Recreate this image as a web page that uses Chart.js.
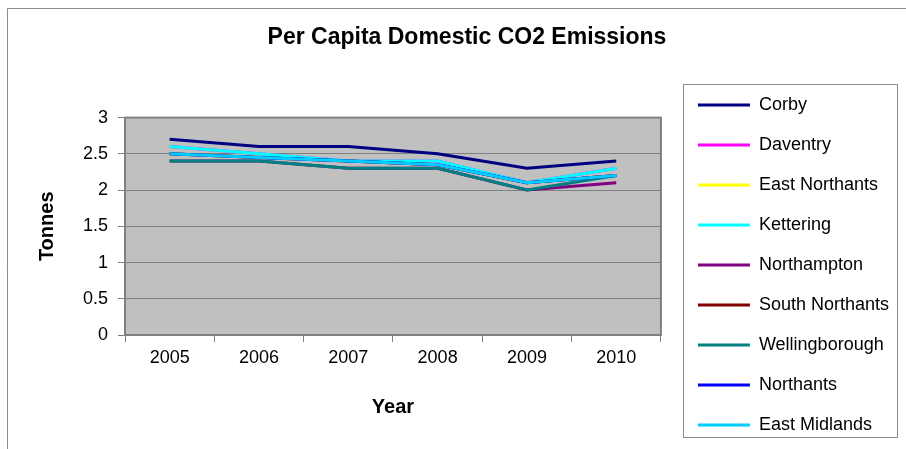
<!DOCTYPE html>
<html>
<head>
<meta charset="utf-8">
<script src="https://cdn.jsdelivr.net/npm/chart.js@4/dist/chart.umd.min.js"></script>
<style>
  html, body { margin: 0; padding: 0; background: #fff; }
  /* the original picture is cropped at the bottom, so the canvas runs past the window */
  #wrap { width: 906px; height: 449px; overflow: hidden; }
</style>
</head>
<body>
<div id="wrap"><canvas id="co2Chart" width="906" height="530"></canvas></div>
<script>

// Data

const years = ["2005", "2006", "2007", "2008", "2009", "2010"];

const corby          = [2.7, 2.6, 2.6, 2.5, 2.3, 2.4];
const daventry       = [2.6, 2.5, 2.4, 2.4, 2.1, 2.3];
const eastNorthants  = [2.5, 2.45, 2.4, 2.35, 2.1, 2.2];
const kettering      = [2.6, 2.5, 2.4, 2.4, 2.1, 2.3];
const northampton    = [2.4, 2.4, 2.3, 2.3, 2.0, 2.1];
const southNorthants = [2.5, 2.45, 2.4, 2.35, 2.1, 2.2];
const wellingborough = [2.4, 2.4, 2.3, 2.3, 2.0, 2.2];
const northants      = [2.5, 2.45, 2.4, 2.35, 2.1, 2.2];
const eastMidlands   = [2.5, 2.45, 2.4, 2.35, 2.1, 2.2];

const seriesNames = ["Corby", "Daventry", "East Northants", "Kettering", "Northampton",
  "South Northants", "Wellingborough", "Northants", "East Midlands"];
const seriesData = [corby, daventry, eastNorthants, kettering, northampton,
  southNorthants, wellingborough, northants, eastMidlands];
const seriesColors = ["#000080", "#ff00ff", "#ffff00", "#00ffff", "#800080",
  "#800000", "#008080", "#0000ff", "#00ccff"];

const yMin = 0;
const yMax = 3;
const yStep = 0.5;

const FONT = "'Liberation Sans', Arial, sans-serif";

// Background, plot area and legend frame

const frames = {

  id: "frames",

  beforeDraw(chart) {
    const { ctx, chartArea: a, width, height } = chart;
    ctx.save();
    ctx.fillStyle = "#ffffff";
    ctx.fillRect(0, 0, width, height);
    ctx.strokeStyle = "#8c8c8c";
    ctx.lineWidth = 1;
    ctx.beginPath();
    ctx.moveTo(7.5, height);
    ctx.lineTo(7.5, 8.5);
    ctx.lineTo(width, 8.5);
    ctx.stroke();
    ctx.fillStyle = "#c0c0c0";
    ctx.fillRect(a.left, a.top, a.right - a.left, a.bottom - a.top);
    ctx.restore();
  },

  beforeDatasetsDraw(chart) {
    const { ctx, chartArea: a } = chart;
    ctx.save();
    ctx.strokeStyle = "#808080";
    ctx.lineWidth = 2;
    ctx.strokeRect(a.left, a.top, a.right - a.left, a.bottom - a.top);
    ctx.restore();
  },

  afterDraw(chart) {
    const legend = chart.legend;
    const boxes = legend.legendHitBoxes;
    if (!boxes || !boxes.length) return;
    const first = boxes[0];
    const last = boxes[boxes.length - 1];
    const top = first.top + first.height / 2 - 21;
    const bottom = last.top + last.height / 2 + 12;
    const { ctx } = chart;
    ctx.save();
    ctx.strokeStyle = "#8c8c8c";
    ctx.lineWidth = 1;
    ctx.strokeRect(Math.round(legend.left + 7) + 0.5, Math.round(top) + 0.5,
      Math.round(legend.right - legend.left - 9), Math.round(bottom - top));
    ctx.restore();
  }

};

// Chart

new Chart(

  document.getElementById("co2Chart"),

  {

    type: "line",

    data: {

      labels: years,

      datasets: seriesNames.map((name, i) => ({
        label: name,
        data: seriesData[i],
        borderColor: seriesColors[i],
        backgroundColor: seriesColors[i],
        borderWidth: 3,
        pointRadius: 0,
        pointHoverRadius: 0,
        tension: 0,
        // later series sit on top, like the original
        order: seriesNames.length - 1 - i
      }))

    },

    options: {

      responsive: false,
      animation: false,

      layout: {
        padding: { left: 35, right: 7, top: 0, bottom: 0 }
      },

      plugins: {

        title: {
          display: true,
          text: "Per Capita Domestic CO2 Emissions",
          color: "#000",
          font: { family: FONT, size: 23, weight: "bold", lineHeight: 1.2 },
          padding: { top: 24, bottom: 29 }
        },

        legend: {
          position: "right",
          align: "center",
          maxWidth: 260,
          labels: {
            color: "#000",
            font: { family: FONT, size: 18 },
            usePointStyle: true,
            pointStyle: "line",
            pointStyleWidth: 52,
            padding: 22,
            sort: (a, b) => a.datasetIndex - b.datasetIndex
          }
        },

        tooltip: { enabled: false }

      },

      scales: {

        x: {
          type: "category",
          offset: true,
          grid: {
            offset: true,
            drawOnChartArea: false,
            drawTicks: true,
            tickLength: 7,
            color: "#808080"
          },
          border: { color: "#808080", width: 2 },
          ticks: {
            color: "#000",
            font: { family: FONT, size: 18 },
            padding: 5,
            maxRotation: 0
          },
          title: {
            display: true,
            text: "Year",
            color: "#000",
            font: { family: FONT, size: 20, weight: "bold", lineHeight: 1.2 },
            padding: { top: 0, bottom: 111 }
          },
          afterFit: (s) => { s.height = 195; }
        },

        x2: {
          type: "category",
          position: "top",
          display: true,
          grid: { display: false },
          border: { display: false },
          ticks: { display: false },
          afterFit: (s) => { s.height = 37; }
        },

        y: {
          min: yMin,
          max: yMax,
          grid: {
            color: "#808080",
            lineWidth: 1,
            tickLength: 7
          },
          border: { color: "#808080", width: 2 },
          ticks: {
            stepSize: yStep,
            color: "#000",
            font: { family: FONT, size: 18 },
            padding: 10,
            callback: (v) => String(v)
          },
          title: {
            display: true,
            text: "Tonnes",
            color: "#000",
            font: { family: FONT, size: 20, weight: "bold", lineHeight: 1.2 },
            padding: { top: 0, bottom: 0 }
          },
          afterFit: (s) => { s.width = 90; }
        },

        y2: {
          position: "right",
          display: true,
          grid: { display: false },
          border: { display: false },
          ticks: { display: false },
          afterFit: (s) => { s.width = 15; }
        }

      }

    },

    plugins: [frames]

  }

);

</script>
</body>
</html>
